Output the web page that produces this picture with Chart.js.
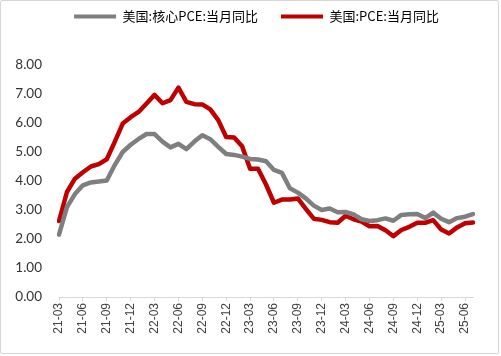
<html lang="zh">
<head>
  <meta charset="UTF-8">
  <title>PCE</title>
  <script src="https://cdn.jsdelivr.net/npm/chart.js"></script>
  <style>
    body { margin: 0; background: #fff; }
    #wrap { position: relative; width: 501px; height: 356px; }
    #frame { position: absolute; left: 0; top: 0; width: 499px; height: 354px; box-sizing: border-box;
      border: 1.5px solid #d6d6d6; border-radius: 2px; pointer-events: none; }
  </style>
</head>
<body>
  <div id="wrap">
    <canvas id="pceChart" width="501" height="356"></canvas>
    <div id="frame"></div>
  </div>

  <script>
    // months 21-03 .. 25-07
    const months = [
      '21-03','21-04','21-05','21-06','21-07','21-08','21-09','21-10','21-11','21-12',
      '22-01','22-02','22-03','22-04','22-05','22-06','22-07','22-08','22-09','22-10','22-11','22-12',
      '23-01','23-02','23-03','23-04','23-05','23-06','23-07','23-08','23-09','23-10','23-11','23-12',
      '24-01','24-02','24-03','24-04','24-05','24-06','24-07','24-08','24-09','24-10','24-11','24-12',
      '25-01','25-02','25-03','25-04','25-05','25-06','25-07'
    ];

    const corePce = [
      2.15, 3.1, 3.55, 3.85, 3.95, 3.98, 4.02, 4.55, 5.0, 5.25,
      5.45, 5.62, 5.62, 5.36, 5.16, 5.28, 5.1, 5.36, 5.58, 5.44,
      5.18, 4.93, 4.9, 4.84, 4.76, 4.74, 4.68, 4.38, 4.28, 3.75,
      3.6, 3.4, 3.15, 3.0, 3.05, 2.92, 2.93, 2.85, 2.68, 2.62,
      2.65, 2.71, 2.63, 2.83, 2.85, 2.86, 2.72, 2.91, 2.7, 2.58,
      2.72, 2.77, 2.86
    ];

    const pce = [
      2.62, 3.62, 4.08, 4.3, 4.5, 4.58, 4.75, 5.35, 5.98, 6.2,
      6.38, 6.67, 6.97, 6.68, 6.79, 7.22, 6.73, 6.65, 6.64, 6.47,
      6.1, 5.52, 5.5, 5.2, 4.42, 4.42, 3.88, 3.25, 3.36, 3.36,
      3.4, 3.04, 2.7, 2.66, 2.58, 2.56, 2.8, 2.68, 2.6, 2.44,
      2.45, 2.3, 2.1, 2.31, 2.42, 2.56, 2.56, 2.65, 2.33, 2.19,
      2.4, 2.54, 2.57
    ];

    const yTicks = [0, 1, 2, 3, 4, 5, 6, 7, 8];

    // legend: fixed block height so the plot starts where the picture does,
    // then nudged up/right since label padding also spaces the items
    const legendSpace = {
      id: 'legendSpace',
      beforeLayout(chart) {
        const lg = chart.legend;
        if (lg && !lg._patched) {
          const fit = lg.fit.bind(lg);
          lg.fit = function () { fit(); this.height = 65; };
          lg._patched = true;
        }
      },
      afterLayout(chart) {
        const lg = chart.legend;
        lg.top = -13;
        lg.left += 20;
        lg.right += 20;
      }
    };

    const ctx = document.getElementById('pceChart').getContext('2d');

    new Chart(ctx, {
      type: 'line',
      data: {
        labels: months,
        datasets: [{
          label: '美国:核心PCE:当月同比',
          data: corePce,
          borderColor: '#7f7f7f',
          backgroundColor: '#7f7f7f',
          borderWidth: 4.5,
          pointRadius: 0,
          tension: 0,
          borderJoinStyle: 'round',
          borderCapStyle: 'round'
        }, {
          label: '美国:PCE:当月同比',
          data: pce,
          borderColor: '#c00000',
          backgroundColor: '#c00000',
          borderWidth: 4.5,
          pointRadius: 0,
          tension: 0,
          borderJoinStyle: 'round',
          borderCapStyle: 'round'
        }]
      },
      options: {
        responsive: false,
        animation: false,
        layout: { padding: { left: 0, right: 28, top: 0, bottom: 0 } },
        plugins: {
          legend: {
            position: 'top',
            labels: {
              boxWidth: 42,
              boxHeight: 4,
              padding: 23,
              color: '#333',
              font: { family: '"Noto Sans CJK SC", "Noto Sans", sans-serif', size: 13 },
              generateLabels(chart) {
                return chart.data.datasets.map((ds, i) => ({
                  text: ds.label,
                  fillStyle: ds.borderColor,
                  strokeStyle: ds.borderColor,
                  lineWidth: 0,
                  datasetIndex: i
                }));
              }
            }
          },
          tooltip: { enabled: false }
        },
        scales: {
          x: {
            afterFit(scale) { scale.height = 59; },
            grid: {
              drawOnChartArea: false,
              drawTicks: true,
              tickLength: 4,
              tickColor: (c) => (c.index % 3 === 0 ? '#d9d9d9' : 'rgba(0,0,0,0)')
            },
            border: { display: true, color: '#d9d9d9', width: 1 },
            ticks: {
              autoSkip: false,
              minRotation: 90,
              maxRotation: 90,
              padding: 2,
              color: '#404040',
              font: { family: '"Liberation Sans", Arial, sans-serif', size: 12 },
              callback(value, index) {
                return index % 3 === 0 ? months[index] : '';
              }
            }
          },
          y: {
            min: 0,
            max: 8,
            afterFit(scale) { scale.width = 59; },
            afterBuildTicks(scale) { scale.ticks = yTicks.map(v => ({ value: v })); },
            grid: { display: false, drawTicks: false },
            border: { display: false },
            ticks: {
              padding: 17,
              color: '#333',
              font: { family: 'Lato, "Open Sans", sans-serif', size: 13.5 },
              callback(value) { return Number(value).toFixed(2); }
            }
          }
        }
      },
      plugins: [legendSpace]
    });
  </script>
</body>
</html>
